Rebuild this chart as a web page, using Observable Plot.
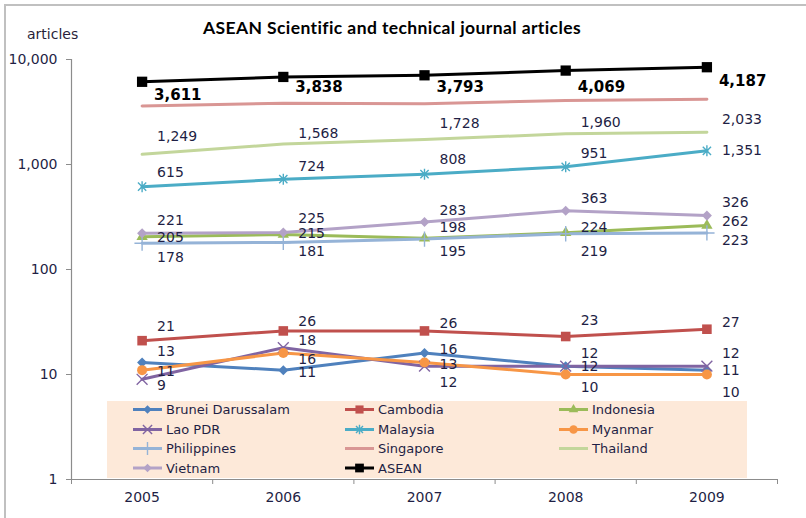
<!DOCTYPE html>
<html><head><meta charset="utf-8">
<script src="https://cdn.jsdelivr.net/npm/d3@7"></script>
<script src="https://cdn.jsdelivr.net/npm/@observablehq/plot@0.6"></script>
<style>
body{margin:0;background:#fff;}
#wrap{position:relative;width:806px;height:518px;overflow:hidden;font-family:"DejaVu Sans",sans-serif;background:#fff;}
#border{position:absolute;left:4px;top:4px;width:820px;height:530px;border-left:2px solid #c0c0c0;border-top:2px solid #c0c0c0;box-sizing:border-box;}
#title{position:absolute;top:17px;left:0;width:784px;text-align:center;font:bold 17.5px Lato,"DejaVu Sans",sans-serif;letter-spacing:0.4px;line-height:22px;color:#000;}
#ylab{position:absolute;top:25px;left:27px;font:14px "DejaVu Sans",sans-serif;line-height:18px;color:#2a1f3a;}
#chart{position:absolute;left:0;top:0;}
#legend{position:absolute;left:107px;top:401px;}
</style>
</head><body>
<div id="wrap">
  <div id="chart"></div>
  <div id="border"></div>
  <div id="title">ASEAN Scientific and technical journal articles</div>
  <div id="ylab">articles</div>
  <div id="legend"></div>
</div>
<script>
// ---- data ----
const years = [2005, 2006, 2007, 2008, 2009];
const seriesNames = ["Brunei Darussalam", "Cambodia", "Indonesia", "Lao PDR", "Malaysia", "Myanmar", "Philippines", "Singapore", "Thailand", "Vietnam", "ASEAN"];
const brunei      = [13, 11, 16, 12, 11];
const cambodia    = [21, 26, 26, 23, 27];
const indonesia   = [205, 215, 198, 224, 262];
const lao         = [9, 18, 12, 12, 12];
const malaysia    = [615, 724, 808, 951, 1351];
const myanmar     = [11, 16, 13, 10, 10];
const philippines = [178, 181, 195, 219, 223];
const singapore   = [3611, 3838, 3793, 4069, 4187];
const thailand    = [1249, 1568, 1728, 1960, 2033];
const vietnam     = [221, 225, 283, 363, 326];
const asean       = [6133, 6822, 7072, 7843, 8442];
const yTicks = [1, 10, 100, 1000, 10000];

const seriesValues = [brunei, cambodia, indonesia, lao, malaysia, myanmar, philippines, singapore, thailand, vietnam, asean];

// ---- styles ----
const colors = ["#4F81BD", "#C0504D", "#9BBB59", "#8064A2", "#4BACC6", "#F79646", "#95B3D7", "#D99694", "#C3D69B", "#B3A2C7", "#000000"];

const diamondSym = {draw(ctx, size){const h = Math.sqrt(size/2); ctx.moveTo(0,-h); ctx.lineTo(h,0); ctx.lineTo(0,h); ctx.lineTo(-h,0); ctx.closePath();}};
const asteriskSym = {draw(ctx, size){const r = Math.sqrt(size/Math.PI); const a = r*0.75; ctx.moveTo(-a,-a); ctx.lineTo(a,a); ctx.moveTo(a,-a); ctx.lineTo(-a,a); ctx.moveTo(0,-r); ctx.lineTo(0,r);}};

// marker style per series: [symbol, filled, r]
const markers = {
  "Brunei Darussalam": [diamondSym, true, 4],
  "Cambodia": [d3.symbolSquare, true, 5.4],
  "Indonesia": [d3.symbolTriangle, true, 4.2],
  "Lao PDR": [d3.symbolTimes, false, 5],
  "Malaysia": [asteriskSym, false, 5.5],
  "Myanmar": [d3.symbolCircle, true, 5],
  "Philippines": [d3.symbolPlus, false, 5],
  "Vietnam": [diamondSym, true, 4],
  "ASEAN": [d3.symbolSquare, true, 5.8]
};

// label vertical offsets (px) per series / year
const labelDy = {
  "Brunei Darussalam": [-11, 2, -4, 0, 0],
  "Cambodia": [-14, -9, -7, -16, -7],
  "Indonesia": [1, -1, -11, -5, -4],
  "Lao PDR": [6, -7, 16, -13, -13],
  "Malaysia": [-14, -13, -15, -13, 0],
  "Myanmar": [1, 6, 2, 13, 18],
  "Philippines": [14, 9, 12, 18, 8],
  "Singapore": [-11, -16, -17, -13, -18],
  "Thailand": [-18, -10, -16, -11, -13],
  "Vietnam": [-13, -14, -12, -12, -13]
};

const rows = seriesNames.flatMap((name, i) => seriesValues[i].map((v, j) => ({series: name, year: years[j], value: v, idx: j})));
const labelRows = rows.filter(d => d.series !== "ASEAN").map(d => ({...d, dy: labelDy[d.series][d.idx]}));

const fmt = d3.format(",");
const textColor = "#1f1f45";

const dotMarks = Object.entries(markers).map(([name, [sym, filled, r]]) =>
  Plot.dot(rows.filter(d => d.series === name), {
    x: "year", y: "value", symbol: sym, r,
    fill: filled ? "series" : "none",
    stroke: filled ? "none" : "series",
    strokeWidth: filled ? 0 : 1.4
  })
);

const labelMarks = d3.groups(labelRows, d => d.dy, d => d.series === "Singapore").flatMap(([dy, groups]) =>
  groups.map(([bold, g]) => Plot.text(g, {
    x: "year", y: "value", text: d => fmt(d.value),
    dx: bold ? 12 : 15, dy, textAnchor: "start",
    fontSize: bold ? 15 : 14, fontWeight: bold ? "bold" : "normal",
    fill: bold ? "#000" : textColor
  }))
);

const chart = Plot.plot({
  width: 806, height: 518,
  marginLeft: 71, marginRight: 29, marginTop: 59, marginBottom: 39,
  style: {fontFamily: "DejaVu Sans, sans-serif", fontSize: "14px", background: "transparent", overflow: "visible"},
  x: {type: "linear", domain: [2004.5, 2009.5], label: null},
  y: {type: "log", domain: [1, 10000], label: null},
  color: {domain: seriesNames, range: colors},
  marks: [
    Plot.ruleX([2004.5], {stroke: "#8c8c8c", strokeWidth: 1.2}),
    Plot.ruleY([1], {stroke: "#8c8c8c", strokeWidth: 1.2}),
    Plot.axisY({ticks: yTicks, tickFormat: fmt, tickSize: 5, tickPadding: 9, stroke: "#8c8c8c", fill: textColor, fontSize: 14, label: null}),
    Plot.axisX({ticks: d3.range(2004.5, 2010, 1), tickFormat: () => "", tickSize: 5, stroke: "#8c8c8c", label: null}),
    Plot.axisX({ticks: years, tickFormat: d => String(d), tickSize: 0, tickPadding: 13, fill: textColor, fontSize: 14, label: null}),
    Plot.line(rows, {x: "year", y: "value", z: "series", stroke: "series", strokeWidth: 3}),
    ...dotMarks,
    ...labelMarks
  ]
});
document.getElementById("chart").appendChild(chart);

// ---- legend (overlay) ----
const lw = 640, lh = 77;
const lsvg = d3.select("#legend").append("svg").attr("width", lw).attr("height", lh);
lsvg.append("rect").attr("width", lw).attr("height", lh).attr("fill", "#FDE9D9");
const colX = [26, 238, 452];
const rowY = [8.5, 28.5, 47.5, 67];
seriesNames.forEach((name, i) => {
  const cx = colX[i % 3], cy = rowY[Math.floor(i / 3)];
  const g = lsvg.append("g").attr("transform", `translate(${cx},${cy})`);
  g.append("line").attr("x1", 0).attr("x2", 29).attr("stroke", colors[i]).attr("stroke-width", 3);
  const m = markers[name];
  if (m) {
    const [sym, filled, r] = m;
    const size = Math.PI * (r * 0.85) ** 2;
    g.append("path").attr("transform", "translate(14.5,0)").attr("d", d3.symbol(sym, size)())
      .attr("fill", filled ? colors[i] : "none").attr("stroke", filled ? "none" : colors[i]).attr("stroke-width", 1.4);
  }
  g.append("text").attr("x", 33).attr("y", 0).attr("dy", "0.35em")
    .attr("font-family", "DejaVu Sans, sans-serif").attr("font-size", 13).attr("fill", textColor).text(name);
});
</script>
</body></html>
